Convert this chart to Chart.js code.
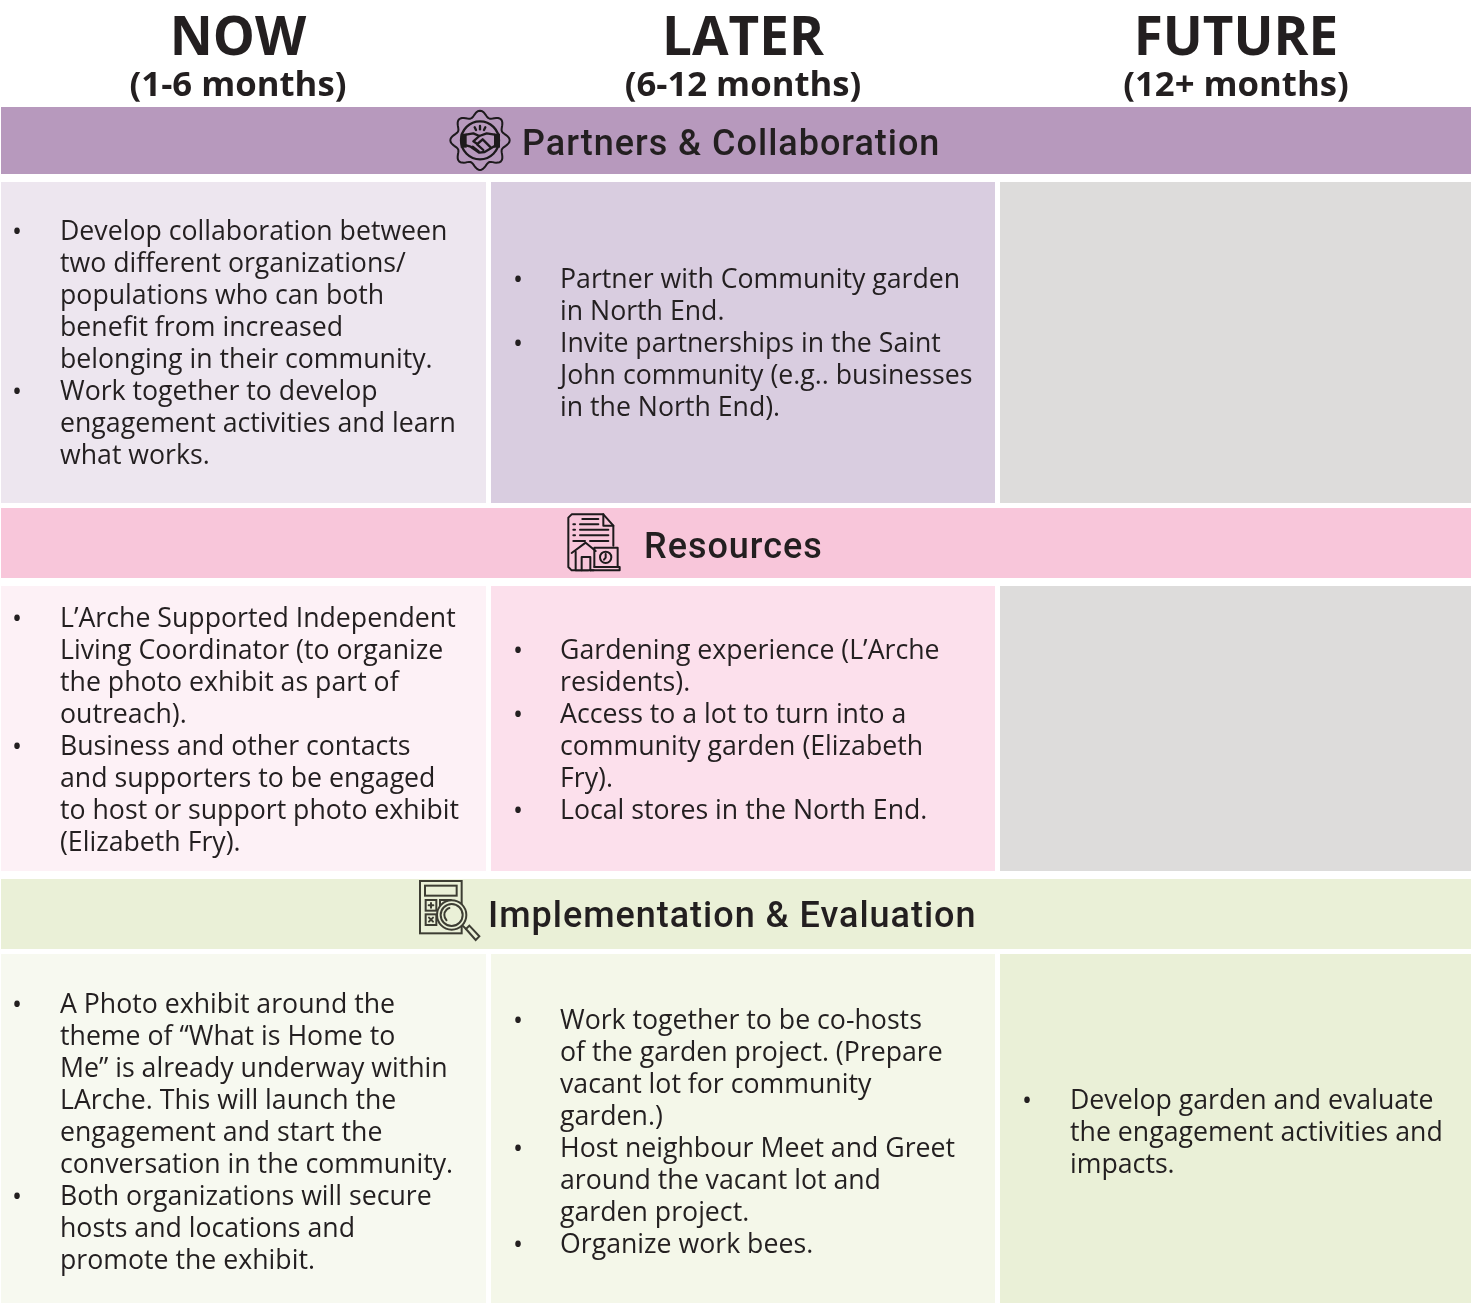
<!DOCTYPE html>
<html lang="en">

<head>
  <meta charset="UTF-8">
  <title>Now, later, future</title>
  <style>
    body { margin: 0; background: #fff; }
    canvas { display: block; }
  </style>
  <script src="https://cdn.jsdelivr.net/npm/chart.js@4"></script>
</head>

<body>
  <canvas id="myChart" width="1471" height="1304"></canvas>

  <script>
    // column headings
    const phases = ["NOW", "LATER", "FUTURE"];
    const phaseSpans = ["(1-6 months)", "(6-12 months)", "(12+ months)"];
    const sections = ["Partners & Collaboration", "Resources", "Implementation & Evaluation"];

    // one list per cell, each bullet split in its printed lines
    const partnersNow = [
      ["Develop collaboration between", "two different organizations/", "populations who can both", "benefit from increased", "belonging in their community."],
      ["Work together to develop", "engagement activities and learn", "what works."]
    ];
    const partnersLater = [
      ["Partner with Community garden", "in North End."],
      ["Invite partnerships in the Saint", "John community (e.g.. businesses", "in the North End)."]
    ];
    const partnersFuture = [];
    const resourcesNow = [
      ["L’Arche Supported Independent", "Living Coordinator (to organize", "the photo exhibit as part of", "outreach)."],
      ["Business and other contacts", "and supporters to be engaged", "to host or support photo exhibit", "(Elizabeth Fry)."]
    ];
    const resourcesLater = [
      ["Gardening experience (L’Arche", "residents)."],
      ["Access to a lot to turn into a", "community garden (Elizabeth", "Fry)."],
      ["Local stores in the North End."]
    ];
    const resourcesFuture = [];
    const implementationNow = [
      ["A Photo exhibit around the", "theme of “What is Home to", "Me” is already underway within", "LArche. This will launch the", "engagement and start the", "conversation in the community."],
      ["Both organizations will secure", "hosts and locations and", "promote the exhibit."]
    ];
    const implementationLater = [
      ["Work together to be co-hosts", "of the garden project. (Prepare", "vacant lot for community", "garden.)"],
      ["Host neighbour Meet and Greet", "around the vacant lot and", "garden project."],
      ["Organize work bees."]
    ];
    const implementationFuture = [
      ["Develop garden and evaluate", "the engagement activities and", "impacts."]
    ];
    const cells = [
      [partnersNow, partnersLater, partnersFuture],
      [resourcesNow, resourcesLater, resourcesFuture],
      [implementationNow, implementationLater, implementationFuture]
    ];

    // layout, in scale units (the scales run 1:1 with the page)
    const colEdges = [[1, 486], [491, 995], [1000, 1471]];
    const headCenters = [238, 743, 1236];
    const bannerEdges = [[107, 174], [508, 578], [879, 949]];
    const rowEdges = [[182, 503], [586, 871], [954, 1303]];
    const rowTextMiddle = [343, 730, 1132];
    const bulletX = [16, 517, 1026];
    const textX = [60, 560, 1070];
    const bannerTextX = [522, 644, 488];
    const bannerBaselines = [155, 558, 927];
    const lineHeight = 32;

    const bannerColors = ["#b799bd", "#f8c6da", "#eaf0d7"];
    const cellColors = [
      ["#ede6ef", "#d9cde0", "#dddcdb"],
      ["#fdf1f6", "#fce0ec", "#dddcdb"],
      ["#f7f9f0", "#f4f7e9", "#eaf0d7"]
    ];
    const inkColor = "#231f20";

    function mid(pair) {
      return (pair[0] + pair[1]) / 2;
    }

    // icons are traced in a 3x grid, so everything is scaled down once
    function iconStart(ctx, left, top, color) {
      ctx.save();
      ctx.translate(left, top);
      ctx.scale(1 / 3, 1 / 3);
      ctx.strokeStyle = color;
      ctx.fillStyle = color;
      ctx.lineWidth = 6;
      ctx.lineJoin = "round";
      ctx.lineCap = "round";
    }

    function line(ctx, pts) {
      ctx.beginPath();
      pts.forEach((p, i) => i ? ctx.lineTo(p[0], p[1]) : ctx.moveTo(p[0], p[1]));
      ctx.stroke();
    }

    function circle(ctx, x, y, r) {
      ctx.beginPath();
      ctx.arc(x, y, r, 0, Math.PI * 2);
      ctx.stroke();
    }

    function drawHandshake(ctx, left, top) {
      iconStart(ctx, left, top, "#1d1a1c");
      const cx = 120, cy = 121, teeth = 8;
      // wavy gear outline
      ctx.beginPath();
      for (let a = 0; a <= 360; a += 3) {
        const t = a * Math.PI / 180;
        const r = 80 + 9 * Math.cos(teeth * t);
        const x = cx + r * Math.cos(t - Math.PI / 2);
        const y = cy + r * Math.sin(t - Math.PI / 2);
        a ? ctx.lineTo(x, y) : ctx.moveTo(x, y);
      }
      ctx.closePath();
      ctx.stroke();
      ctx.lineWidth = 7;
      circle(ctx, cx, cy, 57);
      // cuffs
      ctx.fillRect(62, 101, 18, 42);
      ctx.fillRect(162, 101, 18, 42);
      // hands
      line(ctx, [[78, 104], [100, 100], [118, 108], [140, 100], [164, 104]]);
      line(ctx, [[78, 136], [92, 140], [118, 158], [134, 156], [164, 138]]);
      line(ctx, [[118, 108], [100, 124], [112, 132], [128, 118], [152, 142]]);
      line(ctx, [[98, 140], [116, 154]]);
      line(ctx, [[112, 134], [130, 150]]);
      // little sparks
      line(ctx, [[120, 78], [120, 88]]);
      line(ctx, [[104, 82], [108, 90]]);
      line(ctx, [[136, 82], [132, 90]]);
      ctx.restore();
    }

    function drawDocument(ctx, left, top, bg) {
      iconStart(ctx, left, top, "#1d1a1c");
      line(ctx, [[100, 196], [50, 196], [40, 186], [40, 38], [50, 28], [145, 28], [175, 62], [175, 122]]);
      line(ctx, [[145, 28], [145, 62], [175, 62]]);
      line(ctx, [[82, 42], [130, 42]]);
      line(ctx, [[55, 58], [60, 58]]);
      line(ctx, [[75, 58], [130, 58]]);
      line(ctx, [[55, 74], [60, 74]]);
      line(ctx, [[75, 74], [160, 74]]);
      line(ctx, [[55, 91], [60, 91]]);
      line(ctx, [[75, 91], [160, 91]]);
      line(ctx, [[55, 108], [90, 108]]);
      line(ctx, [[105, 108], [160, 108]]);
      // house
      ctx.fillStyle = bg;
      ctx.fillRect(62, 118, 56, 78);
      line(ctx, [[50, 144], [92, 113], [122, 138]]);
      line(ctx, [[62, 140], [62, 196], [116, 196]]);
      line(ctx, [[80, 196], [80, 156], [106, 156], [106, 196]]);
      // laptop and clock
      line(ctx, [[118, 186], [118, 128], [188, 128], [188, 186]]);
      line(ctx, [[106, 196], [194, 196], [194, 186], [118, 186]]);
      circle(ctx, 152, 157, 17);
      line(ctx, [[152, 147], [152, 158], [147, 164]]);
      ctx.restore();
    }

    function drawCalculator(ctx, left, top, bg) {
      iconStart(ctx, left, top, "#3d3d33");
      ctx.lineJoin = "miter";
      ctx.strokeRect(30, 18, 125, 157);
      ctx.strokeRect(45, 32, 95, 30);
      ctx.strokeRect(47, 75, 32, 32);
      ctx.strokeRect(47, 118, 32, 32);
      ctx.strokeRect(90, 75, 32, 32);
      line(ctx, [[56, 91], [70, 91]]);
      line(ctx, [[63, 84], [63, 98]]);
      line(ctx, [[57, 128], [69, 140]]);
      line(ctx, [[69, 128], [57, 140]]);
      // magnifier on top
      ctx.fillStyle = bg;
      ctx.beginPath();
      ctx.arc(125, 120, 44, 0, Math.PI * 2);
      ctx.fill();
      circle(ctx, 125, 120, 44);
      circle(ctx, 125, 120, 33);
      ctx.beginPath();
      ctx.arc(125, 120, 22, Math.PI * 0.75, Math.PI * 1.4);
      ctx.stroke();
      line(ctx, [[158, 152], [168, 162]]);
      line(ctx, [[168, 162], [178, 152], [208, 184], [197, 195], [168, 162]]);
      ctx.restore();
    }

    const tablePlugin = {
      id: "tableText",
      afterDatasetsDraw(chart) {
        const ctx = chart.ctx;
        const xs = chart.scales.x;
        const ys = chart.scales.y;
        ctx.save();
        ctx.fillStyle = inkColor;
        ctx.textBaseline = "alphabetic";

        // headings
        ctx.textAlign = "center";
        phases.forEach((name, i) => {
          ctx.font = "bold 53px 'Open Sans'";
          ctx.fillText(name, xs.getPixelForValue(headCenters[i]), ys.getPixelForValue(55));
          ctx.font = "bold 34.7px 'Open Sans'";
          ctx.fillText(phaseSpans[i], xs.getPixelForValue(headCenters[i]), ys.getPixelForValue(96));
        });

        // banners
        ctx.textAlign = "left";
        ctx.font = "500 36px Roboto";
        ctx.letterSpacing = "0.98px";
        sections.forEach((name, i) => {
          ctx.fillText(name, xs.getPixelForValue(bannerTextX[i]), ys.getPixelForValue(bannerBaselines[i]));
        });
        ctx.letterSpacing = "0px";

        // bullets
        ctx.font = "26.7px 'Open Sans'";
        cells.forEach((row, r) => {
          row.forEach((bullets, c) => {
            const total = bullets.reduce((n, b) => n + b.length, 0);
            let y = rowTextMiddle[r] - (total - 1) * lineHeight / 2 + 9;
            bullets.forEach(lines => {
              ctx.fillText("•", xs.getPixelForValue(bulletX[c]) - 4, ys.getPixelForValue(y + 1));
              lines.forEach(text => {
                ctx.fillText(text, xs.getPixelForValue(textX[c]), ys.getPixelForValue(y));
                y += lineHeight;
              });
            });
          });
        });
        ctx.restore();

        drawHandshake(ctx, xs.getPixelForValue(440), ys.getPixelForValue(100));
        drawDocument(ctx, xs.getPixelForValue(555), ys.getPixelForValue(505), bannerColors[1]);
        drawCalculator(ctx, xs.getPixelForValue(410), ys.getPixelForValue(875), bannerColors[2]);
      }
    };

    // banners run across the full width, cells are floating bars per column
    const datasets = [{
      label: "banners",
      data: bannerEdges.map(e => ({ x: 736, y: e })),
      backgroundColor: bannerColors,
      barThickness: 1470,
      inflateAmount: 0,
      grouped: false
    }];
    colEdges.forEach((col, c) => {
      datasets.push({
        label: phases[c],
        data: rowEdges.map(e => ({ x: mid(col), y: e })),
        backgroundColor: cellColors.map(row => row[c]),
        barThickness: col[1] - col[0],
        inflateAmount: 0,
        grouped: false
      });
    });

    new Chart(document.getElementById("myChart").getContext("2d"), {
      type: "bar",
      data: { datasets: datasets },
      options: {
        responsive: false,
        animation: false,
        layout: { padding: 0 },
        plugins: { legend: { display: false }, tooltip: { enabled: false } },
        scales: {
          x: { type: "linear", min: 0, max: 1471, offset: false, display: false },
          y: { type: "linear", min: 0, max: 1304, reverse: true, display: false }
        }
      },
      plugins: [tablePlugin]
    });
  </script>

</body>

</html>
